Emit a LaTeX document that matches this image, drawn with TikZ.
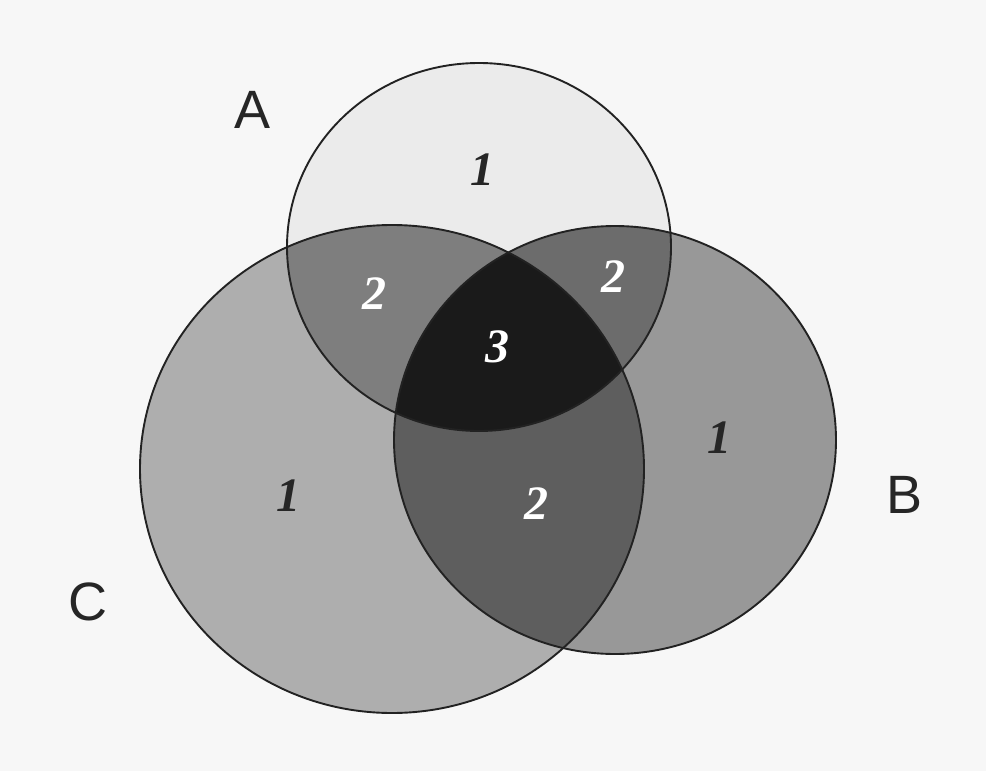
\documentclass[tikz,border=0pt]{standalone}
\usepackage{fontspec}
\setmainfont{Liberation Serif}
\setsansfont{Liberation Sans}
\definecolor{bg}{HTML}{F7F7F7}
\definecolor{cA}{HTML}{EBEBEB}
\definecolor{cB}{HTML}{989898}
\definecolor{cC}{HTML}{AEAEAE}
\definecolor{cAB}{HTML}{6C6C6C}
\definecolor{cAC}{HTML}{7E7E7E}
\definecolor{cBC}{HTML}{5E5E5E}
\definecolor{cABC}{HTML}{1A1A1A}
\definecolor{edge}{HTML}{222222}
\begin{document}
\begin{tikzpicture}[x=1pt,y=-1pt,
  setlbl/.style={font=\sffamily\fontsize{54}{54}\selectfont, text=black!85, inner sep=0pt},
  numdark/.style={font=\bfseries\itshape\fontsize{48}{48}\selectfont, text=black!85, inner sep=0pt},
  numlight/.style={font=\bfseries\itshape\fontsize{48}{48}\selectfont, text=white, inner sep=0pt},
  outline/.style={draw=edge, line width=1.9pt}]
\fill[bg] (0,0) rectangle (986,771);
\useasboundingbox (0,0) rectangle (986,771);
\def\shA{(479,247) ellipse [x radius=192, y radius=184]}
\def\shB{(615,440) ellipse [x radius=221, y radius=214]}
\def\shC{(392,469) ellipse [x radius=252, y radius=244]}
% single regions
\fill[cA] \shA;
\fill[cB] \shB;
\fill[cC] \shC;
% pairwise
\begin{scope}
  \clip \shA;
  \fill[cAB] \shB;
  \fill[cAC] \shC;
\end{scope}
\begin{scope}
  \clip \shB;
  \fill[cBC] \shC;
\end{scope}
% triple
\begin{scope}
  \clip \shA;
  \clip \shB;
  \fill[cABC] \shC;
\end{scope}
% outlines
\draw[outline] \shA;
\draw[outline] \shB;
\draw[outline] \shC;
% set labels
\node[setlbl] (la) at (253,110) {A};
\node[setlbl] (lb) at (905,495) {B};
\node[setlbl] (lc) at (88,602) {C};
% region numbers
\node[numdark] (n1a) at (482,170) {1};
\node[numdark] (n1b) at (719,438) {1};
\node[numdark] (n1c) at (288,496) {1};
\node[numlight] (n2ac) at (374,294) {2};
\node[numlight] (n2ab) at (613,277) {2};
\node[numlight] (n2bc) at (536,504) {2};
\node[numlight] (n3) at (497,347) {3};
\end{tikzpicture}
\end{document}
